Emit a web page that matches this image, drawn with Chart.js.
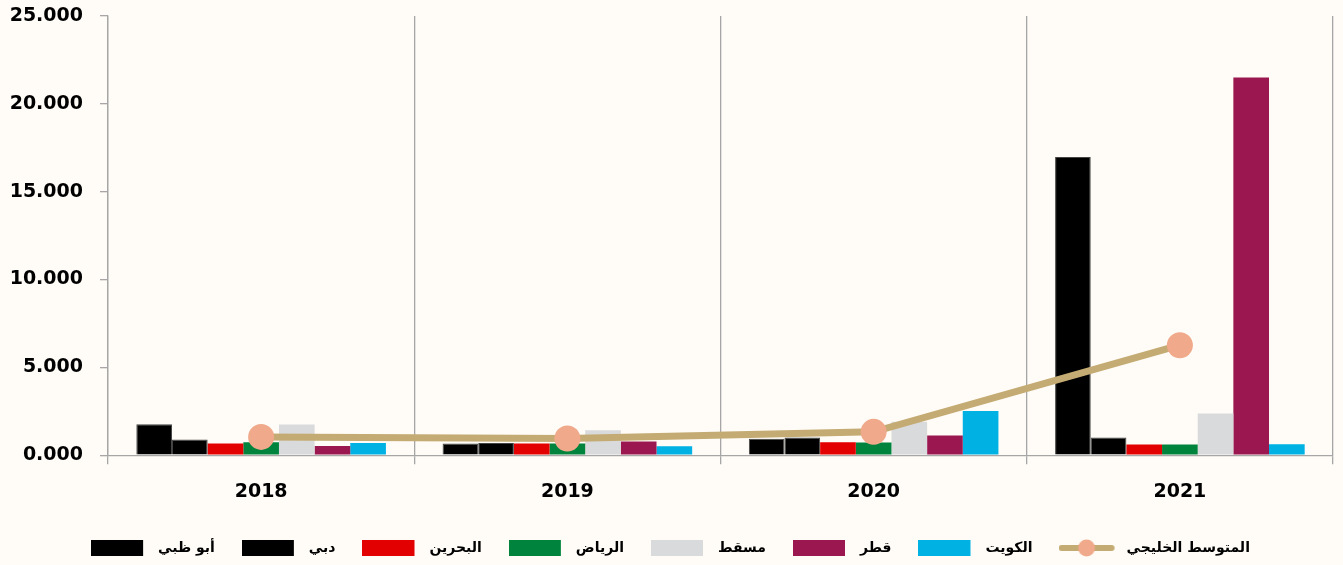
<!DOCTYPE html>
<html>
<head>
<meta charset="utf-8">
<script src="https://cdn.jsdelivr.net/npm/chart.js@4"></script>
<style>
  html, body { margin: 0; padding: 0; background: #fffcf7; }
  #wrap { width: 1343px; height: 565px; }
</style>
</head>
<body>
<div id="wrap"><canvas id="chart"></canvas></div>
<script>
// categories (years)
const years = ['2018', '2019', '2020', '2021'];

// series names (Arabic, as in the legend)
const seriesNames = ['أبو ظبي', 'دبي', 'البحرين', 'الرياض', 'مسقط', 'قطر', 'الكويت'];
const avgName = 'المتوسط الخليجي';

// values
const abuDhabi = [1765, 665, 930, 16970];
const dubai = [895, 700, 1010, 1010];
const bahrain = [665, 665, 740, 610];
const riyadh = [740, 665, 720, 610];
const muscat = [1750, 1420, 1900, 2370];
const qatar = [530, 780, 1120, 21500];
const kuwait = [700, 510, 2520, 630];
const gulfAvg = [1040, 950, 1330, 6260];

const yTicks = [0, 5000, 10000, 15000, 20000, 25000];

const barColors = ['#000000', '#000000', '#e30000', '#00843d', '#d9dadb', '#9b174f', '#00b1e4'];
const lineColor = '#c4ab73';
const dotColor = '#f0a98a';

const seriesValues = [abuDhabi, dubai, bahrain, riyadh, muscat, qatar, kuwait];

// little canvases used as legend symbols (extra blank room on the right = gap before text)
function boxIcon(color) {
    const c = document.createElement('canvas');
    c.width = 60; c.height = 16;
    const g = c.getContext('2d');
    g.fillStyle = color;
    g.fillRect(0, 0, 52, 16);
    return c;
}
function lineIcon() {
    const c = document.createElement('canvas');
    c.width = 62; c.height = 18;
    const g = c.getContext('2d');
    g.strokeStyle = lineColor;
    g.lineWidth = 6;
    g.lineCap = 'round';
    g.beginPath();
    g.moveTo(3, 9); g.lineTo(53, 9);
    g.stroke();
    g.fillStyle = dotColor;
    g.beginPath();
    g.arc(28, 9, 8.5, 0, Math.PI * 2);
    g.fill();
    return c;
}

const datasets = seriesNames.map((name, i) => ({
    type: 'bar',
    label: name,
    data: seriesValues[i],
    backgroundColor: barColors[i],
    borderColor: i < 2 ? '#444444' : barColors[i],
    borderWidth: i < 2 ? 1 : 0,
    order: 1,
    legendIcon: boxIcon(barColors[i]),
}));

datasets.push({
    type: 'line',
    label: avgName,
    data: gulfAvg,
    borderColor: lineColor,
    borderWidth: 7,
    pointRadius: 13,
    pointHoverRadius: 13,
    pointBackgroundColor: dotColor,
    pointBorderWidth: 0,
    tension: 0,
    order: 0,
    legendIcon: lineIcon(),
});

const ctx = document.getElementById('chart').getContext('2d');
new Chart(ctx, {
    data: { labels: years, datasets: datasets },
    options: {
        responsive: true,
        maintainAspectRatio: false,
        animation: false,
        layout: { autoPadding: false, padding: { left: 8, right: 10, top: 16, bottom: 0 } },
        datasets: {
            bar: { categoryPercentage: 0.815, barPercentage: 1.0 },
        },
        scales: {
            x: {
                afterFit: (axis) => { axis.height -= 5; },
                grid: {
                    offset: true,
                    display: true,
                    drawOnChartArea: true,
                    drawTicks: true,
                    tickLength: 9,
                    color: '#a6a6a6',
                    lineWidth: 1.3,
                },
                border: { display: true, color: '#a6a6a6', width: 1.3 },
                ticks: {
                    color: '#000',
                    padding: 16,
                    font: { family: 'DejaVu Sans', weight: 'bold', size: 19 },
                },
            },
            y: {
                min: 0,
                max: 25000,
                afterBuildTicks: (axis) => { axis.ticks = yTicks.map(v => ({ value: v })); },
                afterFit: (axis) => { axis.width = 100; axis.paddingTop = 0; },
                grid: {
                    display: true,
                    drawOnChartArea: false,
                    drawTicks: true,
                    tickLength: 8,
                    color: '#a6a6a6',
                    lineWidth: 1.3,
                },
                border: { display: true, color: '#a6a6a6', width: 1.3 },
                ticks: {
                    color: '#000',
                    padding: 17,
                    font: { family: 'DejaVu Sans', weight: 'bold', size: 19 },
                    callback: (v) => (v / 1000).toFixed(3),
                },
            },
        },
        plugins: {
            legend: {
                position: 'bottom',
                labels: {
                    usePointStyle: true,
                    pointStyleWidth: 60,
                    boxHeight: 16,
                    padding: 27,
                    color: '#000',
                    font: { family: 'DejaVu Sans', weight: 'bold', size: 14 },
                    sort: (a, b) => a.datasetIndex - b.datasetIndex,
                    generateLabels: (chart) => chart.data.datasets.map((ds, i) => ({
                        text: ds.label,
                        pointStyle: ds.legendIcon,
                        fillStyle: ds.backgroundColor || ds.borderColor,
                        strokeStyle: 'transparent',
                        lineWidth: 0,
                        hidden: false,
                        datasetIndex: i,
                        fontColor: '#000',
                    })),
                },
            },
            tooltip: { enabled: false },
        },
    },
});
</script>
</body>
</html>
